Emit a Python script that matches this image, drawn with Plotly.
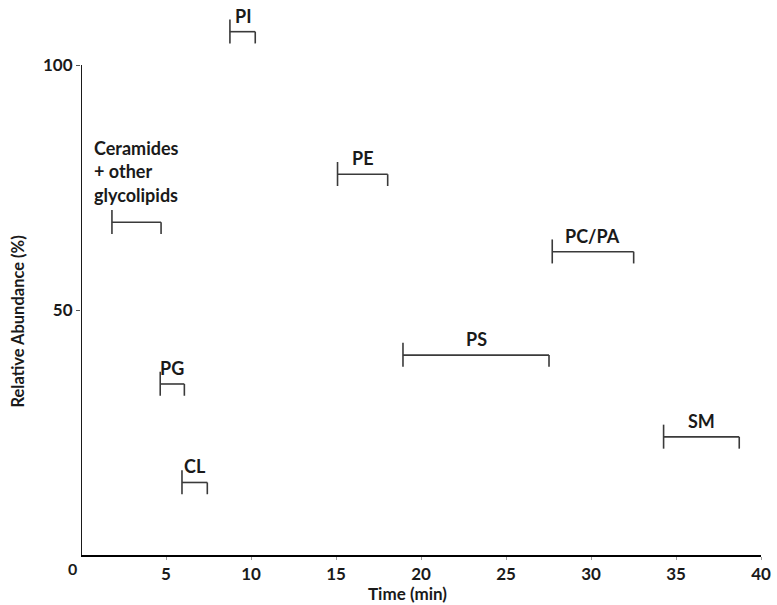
import plotly.graph_objects as go

# Data
lipids = ["PI", "Ceramides<br>+ other<br>glycolipids", "PG", "CL", "PE", "PC/PA", "PS", "SM"]
start_min = [8.76, 1.82, 4.66, 5.94, 15.09, 27.72, 18.94, 34.27]
end_min = [10.25, 4.71, 6.08, 7.43, 18.04, 32.51, 27.53, 38.72]
abundance = [106.8, 67.9, 34.9, 14.8, 77.7, 61.9, 40.8, 24.1]
x_ticks = [5, 10, 15, 20, 25, 30, 35, 40]
y_ticks = [50, 100]

FONT = "Lato"
LINE = "#3a3a3a"
TXT = "#1a1a1a"

fig = go.Figure()
for name, s, e, v in zip(lipids, start_min, end_min, abundance):
    fig.add_trace(go.Scatter(
        x=[s, e], y=[v, v], mode="lines",
        line=dict(color=LINE, width=1.6),
        error_y=dict(type="data", symmetric=False, array=[2.5, 0], arrayminus=[2.4, 2.4],
                     width=0, thickness=1.6, color=LINE),
        hoverinfo="skip", showlegend=False,
    ))
    multi = "<br>" in name
    fig.add_annotation(
        x=(s + e) / 2, y=v, xref="x", yref="y", text="<b>%s</b>" % name,
        showarrow=False, xanchor="center", yanchor="bottom",
        align="left", yshift=15 if multi else 4, borderpad=0,
        font=dict(family=FONT, size=18, color=TXT),
    )

# y-axis line from 0 to 100 only
fig.add_shape(type="line", xref="x", yref="y", x0=0, x1=0, y0=0, y1=100,
              line=dict(color="#000000", width=1.8))

# shared origin label
fig.add_annotation(x=0, y=0, xref="x", yref="y", text="<b>0</b>", showarrow=False,
                   xshift=-9, yshift=-13, font=dict(family=FONT, size=16, color=TXT))
# axis titles
fig.add_annotation(x=19.2, y=0, xref="x", yref="y", text="<b>Time (min)</b>", showarrow=False,
                   yshift=-38, font=dict(family=FONT, size=17, color=TXT))
fig.add_annotation(x=0, y=47.6, xref="paper", yref="y", text="<b>Relative Abundance (%)</b>",
                   showarrow=False, textangle=-90, xanchor="center", xshift=17.5 - 80.7,
                   font=dict(family=FONT, size=16.5, color=TXT))

fig.update_layout(
    width=777, height=605,
    margin=dict(l=80.7, r=16.3, t=16, b=50),
    paper_bgcolor="white", plot_bgcolor="white",
    xaxis=dict(range=[0, 40], tickvals=x_ticks, ticktext=["<b>%d</b>" % t for t in x_ticks],
               showline=True, linecolor="#000000", linewidth=1.8, automargin=False,
               ticks="outside", ticklen=3, tickcolor="#999999", showgrid=False, zeroline=False,
               tickfont=dict(family=FONT, size=17, color=TXT)),
    yaxis=dict(range=[0, 110], tickvals=y_ticks, ticktext=["<b>%d</b>" % t for t in y_ticks],
               showline=False, ticks="outside", ticklen=4, tickcolor="#555555", automargin=False,
               showgrid=False, zeroline=False,
               tickfont=dict(family=FONT, size=17, color=TXT)),
)

# remove the default 8px page margin so the figure fills the window exactly
fig.write_html("out.html", config={"displayModeBar": False},
               post_script="document.body.style.margin='0';")
